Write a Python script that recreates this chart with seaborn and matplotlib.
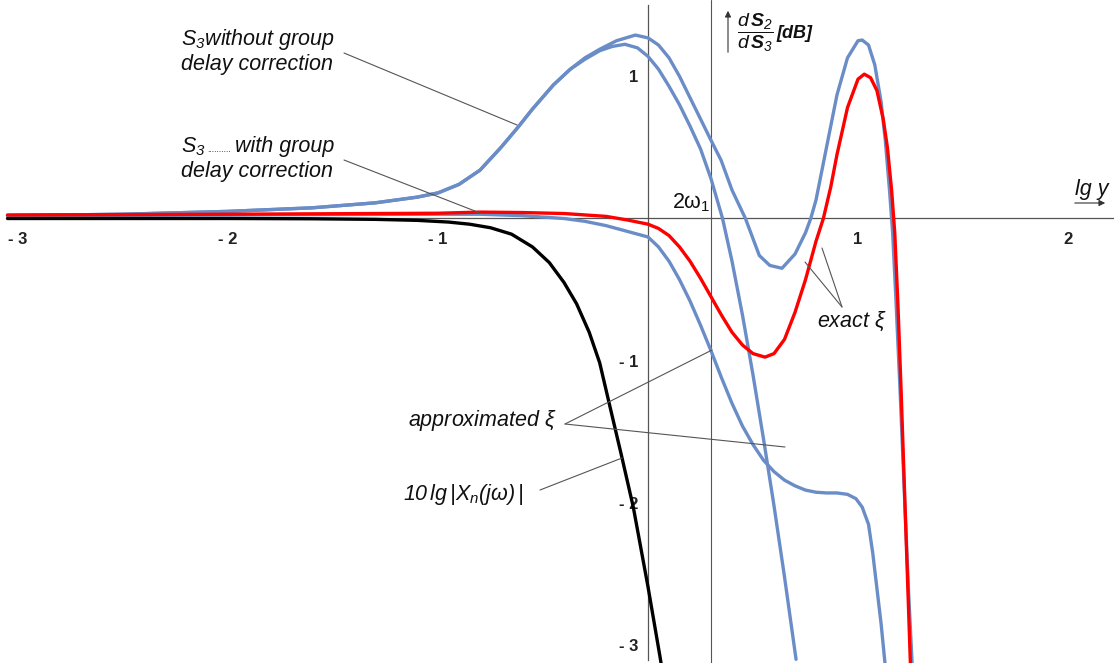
import matplotlib
matplotlib.use('Agg')
import matplotlib.pyplot as plt
import seaborn as sns

sns.set_theme(style='white')
plt.rcParams['font.family'] = ['Liberation Sans', 'DejaVu Sans']
plt.rcParams['mathtext.fontset'] = 'custom'
plt.rcParams['mathtext.rm'] = 'Liberation Sans'
plt.rcParams['mathtext.it'] = 'Liberation Sans:italic'
plt.rcParams['mathtext.bf'] = 'Liberation Sans:italic:bold'
plt.rcParams['mathtext.default'] = 'regular'

# ---- data (x = lg y, y = dS2/dS3 in dB) ----
black_x = [-3.05, -2.5, -2.0, -1.6, -1.3, -1.1, -0.95, -0.85, -0.75, -0.65, -0.55, -0.47,
           -0.40, -0.34, -0.28, -0.23, -0.18, -0.125, -0.07, 0.0, 0.057, 0.07]
black_y = [0.0, 0.0, 0.0, -0.002, -0.006, -0.013, -0.025, -0.04, -0.065, -0.11, -0.2, -0.31,
           -0.45, -0.6, -0.8, -1.015, -1.33, -1.675, -2.03, -2.59, -3.08, -3.2]

# S3 without group delay correction, exact xi
blueA_x = [-3.05, -2.5, -2.0, -1.6, -1.3, -1.1, -1.0, -0.9, -0.8, -0.7, -0.62, -0.55, -0.45,
           -0.37, -0.3, -0.23, -0.15, -0.06, 0.0, 0.05, 0.1, 0.15, 0.2, 0.25, 0.3, 0.348,
           0.4, 0.464, 0.53, 0.58, 0.638, 0.7, 0.75, 0.775, 0.8, 0.85, 0.9, 0.95, 1.0, 1.02,
           1.05, 1.08, 1.11, 1.13, 1.15, 1.165, 1.18, 1.2, 1.22, 1.24, 1.26]
blueA_y = [0.02, 0.03, 0.05, 0.075, 0.11, 0.15, 0.18, 0.24, 0.34, 0.5, 0.64, 0.77, 0.94,
           1.05, 1.13, 1.19, 1.25, 1.29, 1.27, 1.22, 1.13, 1.0, 0.85, 0.7, 0.55, 0.41,
           0.2, 0.0, -0.26, -0.33, -0.35, -0.25, -0.1, 0.0, 0.13, 0.5, 0.87, 1.13, 1.25, 1.255,
           1.22, 1.08, 0.82, 0.55, 0.2, -0.1, -0.55, -1.2, -1.9, -2.6, -3.2]

# S3 without group delay correction, approximated xi
blueB_x = [-3.05, -2.5, -2.0, -1.6, -1.3, -1.1, -1.0, -0.9, -0.8, -0.7, -0.62, -0.55, -0.45,
           -0.37, -0.3, -0.23, -0.17, -0.11, -0.05, 0.0, 0.05, 0.1, 0.15, 0.2, 0.25, 0.3,
           0.355, 0.4, 0.45, 0.5, 0.55, 0.6, 0.65, 0.705]
blueB_y = [0.02, 0.03, 0.05, 0.075, 0.11, 0.15, 0.18, 0.24, 0.34, 0.5, 0.64, 0.77, 0.94,
           1.05, 1.12, 1.18, 1.21, 1.225, 1.2, 1.14, 1.05, 0.93, 0.8, 0.65, 0.49, 0.28,
           0.0, -0.3, -0.68, -1.1, -1.55, -2.02, -2.52, -3.1]

# S3 with group delay correction, approximated xi
blueC_x = [-3.05, -2.0, -1.0, -0.8, -0.6, -0.4, -0.3, -0.2, -0.1, 0.0, 0.05, 0.1, 0.15, 0.2,
           0.25, 0.3, 0.35, 0.4, 0.45, 0.5, 0.55, 0.6, 0.65, 0.7, 0.75, 0.8, 0.85, 0.9, 0.95,
           0.99, 1.02, 1.05, 1.07, 1.09, 1.11, 1.13]
blueC_y = [0.02, 0.025, 0.03, 0.03, 0.02, 0.0, -0.02, -0.05, -0.09, -0.13, -0.2, -0.3, -0.43,
           -0.58, -0.75, -0.93, -1.12, -1.3, -1.46, -1.59, -1.7, -1.78, -1.84, -1.88, -1.91,
           -1.925, -1.93, -1.93, -1.94, -1.97, -2.03, -2.15, -2.35, -2.6, -2.85, -3.15]

# S3 with group delay correction, exact xi
red_x = [-3.05, -2.0, -1.0, -0.8, -0.6, -0.4, -0.2, -0.1, 0.0, 0.05, 0.1, 0.15, 0.2, 0.25,
         0.3, 0.35, 0.4, 0.45, 0.5, 0.557, 0.6, 0.65, 0.7, 0.75, 0.8, 0.835, 0.87, 0.9, 0.95,
         1.0, 1.03, 1.06, 1.09, 1.12, 1.14, 1.16, 1.175, 1.19, 1.205, 1.22, 1.235, 1.25]
red_y = [0.025, 0.03, 0.037, 0.045, 0.042, 0.035, 0.015, -0.01, -0.04, -0.07, -0.12, -0.2,
         -0.3, -0.42, -0.55, -0.68, -0.8, -0.89, -0.95, -0.975, -0.95, -0.85, -0.66, -0.43,
         -0.16, 0.0, 0.22, 0.45, 0.78, 0.98, 1.015, 0.99, 0.9, 0.7, 0.5, 0.2, -0.1, -0.6,
         -1.2, -1.85, -2.5, -3.15]

x_major = [-3, -2, -1, 1, 2]
x_major_labels = ['- 3', '- 2', '- 1', '1', '2']
y_major = [-3, -2, -1, 1]
y_major_labels = ['- 3', '- 2', '- 1', '1']
x_minor = [round(-3 + 0.2 * k, 1) for k in range(27)]
y_minor = [round(-3 + 0.2 * k, 1) for k in range(23)]


def px2x(px):
    return (px - 648) / 210.0


def py2y(py):
    return (218.5 - py) / 142.2


blue = '#6a8dc7'
gray = '#555555'

fig = plt.figure(figsize=(11.14, 6.63), dpi=100)
ax = fig.add_axes([0, 0, 1, 1])
ax.set_xlim(px2x(0), px2x(1114))
ax.set_ylim(py2y(663), py2y(0))

for xs, ys in [(blueA_x, blueA_y), (blueB_x, blueB_y), (blueC_x, blueC_y)]:
    sns.lineplot(x=xs, y=ys, sort=False, estimator=None, color=blue, lw=2.4, ax=ax, zorder=3)
sns.lineplot(x=black_x, y=black_y, sort=False, estimator=None, color='black', lw=2.4, ax=ax, zorder=4)
sns.lineplot(x=red_x, y=red_y, sort=False, estimator=None, color='red', lw=2.4, ax=ax, zorder=5)
for line in ax.lines:
    line.set_solid_joinstyle('round')

# axes through the origin
for s in ['top', 'right']:
    ax.spines[s].set_visible(False)
ax.spines['left'].set_position(('data', 0))
ax.spines['bottom'].set_position(('data', 0))
ax.spines['bottom'].set_bounds(px2x(8), px2x(1114))
ax.spines['left'].set_bounds(py2y(660), py2y(5))
for s in ['left', 'bottom']:
    ax.spines[s].set_color(gray)
    ax.spines[s].set_linewidth(0.9)
    ax.spines[s].set_zorder(2)

ax.set_xticks(x_major)
ax.set_xticklabels(x_major_labels)
ax.set_xticks([v for v in x_minor if v not in x_major and v != 0], minor=True)
ax.set_yticks(y_major)
ax.set_yticklabels(y_major_labels)
ax.set_yticks([v for v in y_minor if v not in y_major and v != 0], minor=True)
ax.tick_params(which='both', direction='in', color=gray, width=0.8)
ax.tick_params(which='major', length=8)
ax.tick_params(which='minor', length=5)
ax.tick_params(axis='x', which='major', pad=10, labelsize=12)
ax.tick_params(axis='y', which='major', pad=7, labelsize=12)
for lab in ax.get_xticklabels() + ax.get_yticklabels():
    lab.set_fontweight('bold')
    lab.set_color('#222222')

# vertical line at 2*omega_1
ax.axvline(px2x(711), color=gray, lw=0.8, zorder=2)

# axis arrows
ax.annotate('', xy=(px2x(728), py2y(8)), xytext=(px2x(728), py2y(55)),
            arrowprops=dict(arrowstyle='-|>', color='#333333', lw=0.8, mutation_scale=9))
ax.annotate('', xy=(px2x(1108), py2y(203)), xytext=(px2x(1072), py2y(203)),
            arrowprops=dict(arrowstyle='-|>', color='#333333', lw=0.8, mutation_scale=9))

# connector lines
connectors = [((344, 53), (517, 125)), ((344, 160), (480, 213)),
              ((565, 424), (712, 350)), ((565, 424), (785, 447)),
              ((540, 490), (622, 458)), ((842, 307), (805, 262)), ((842, 307), (822, 248))]
for (a, b) in connectors:
    ax.plot([px2x(a[0]), px2x(b[0])], [py2y(a[1]), py2y(b[1])], color=gray, lw=0.8, zorder=6)

# texts
fs = 15.5


def put(px, py, s, **kw):
    ax.text(px2x(px), py2y(py), s, va='baseline', ha='left', color='#111111', **kw)


put(181, 45, r'$S_3$without group', fontsize=fs, fontstyle='italic')
put(181, 70, 'delay correction', fontsize=fs, fontstyle='italic')
put(181, 152, r'$S_3$', fontsize=fs, fontstyle='italic')
put(207, 152, '..........', fontsize=6)
put(235, 152, 'with group', fontsize=fs, fontstyle='italic')
put(181, 177, 'delay correction', fontsize=fs, fontstyle='italic')
put(408, 426, r'approximated $\xi$', fontsize=fs, fontstyle='italic')
put(403, 500, r'10$\,$lg$\,|X_n(j\omega)\,|$', fontsize=fs, fontstyle='italic')
put(817, 327, r'exact $\xi$', fontsize=fs, fontstyle='italic')
put(672, 208, r'2$\omega_1$', fontsize=fs)
put(1075, 195, 'lg y', fontsize=fs, fontstyle='italic')
ax.text(px2x(737), py2y(33), r'$\dfrac{d\,\mathbf{S}_2}{d\,\mathbf{S}_3}$', fontsize=14,
        fontstyle='italic', va='center', ha='left', color='#111111')
ax.text(px2x(776), py2y(34), '[dB]', fontsize=13, fontstyle='italic', fontweight='bold',
        va='center', ha='left', color='#111111')

fig.savefig('out.png', dpi=100)
